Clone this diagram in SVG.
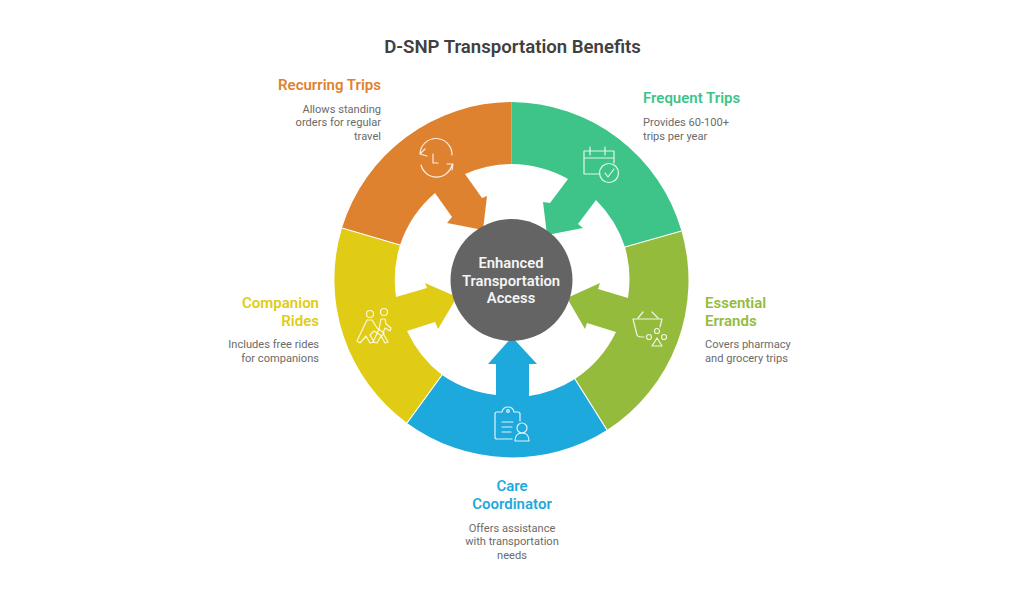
<svg xmlns="http://www.w3.org/2000/svg" width="1024" height="597" viewBox="0 0 1024 597">
<style>
text{font-family:Roboto,"Liberation Sans",sans-serif}
.t{font-size:15px;font-weight:600}
.d{font-size:11.100px;fill:#6b6b6b}
.c{font-size:14.800px;font-weight:600;fill:#f4f4f4;text-anchor:middle}
.seg{stroke:none}
.sep{stroke:#fff;stroke-width:1.200;fill:none}
.ic{fill:none;stroke:#fff;stroke-width:1.200;stroke-linecap:round;stroke-linejoin:round;opacity:.85}
.e{text-anchor:end}.m{text-anchor:middle}
</style>
<rect width="1024" height="597" fill="#fff"/>
<text x="512.500" y="53" class="m" font-size="18.600" font-weight="600" fill="#404040">D-SNP Transportation Benefits</text>
<g id="recurring-trips">
<path class="seg" fill="#df8230" d="M511.500 102V164A118 118 0 0 0 465 174L482 198L487 196L483 230L447 223L452 217L435 193A118 118 0 0 0 400 245L342 228A178 178 0 0 1 511.500 102Z"/>
<path class="ic" d="M420 154A16 16 0 0 1 452 155M420 154L425 149M420 154L427 156M421 165A16 16 0 0 0 452 165M453 164L447 164M453 164L452 170M433 154V163H438"/>
<text x="381" y="90" class="t e" fill="#df8230">Recurring Trips</text>
<text x="381" y="113" class="d e">Allows standing</text><text x="381" y="126" class="d e">orders for regular</text><text x="381" y="140" class="d e">travel</text>
</g>
<g id="frequent-trips">
<path class="seg" fill="#3ec488" d="M511.500 102A178 178 0 0 1 681.500 231L625 247A118 118 0 0 0 596 200L578 224L583 228L547 235L543 202L550 203L568 179A118 118 0 0 0 511.500 164Z"/>
<path class="ic" d="M600 174H584V151H614V163M584 158H614M590 147V155M605 147V155"/><circle class="ic" cx="609" cy="173" r="9.500"/><path class="ic" d="M605 173L608 177L614 169"/>
<text x="643" y="103" class="t" fill="#3ec488">Frequent Trips</text>
<text x="643" y="126" class="d">Provides 60-100+</text><text x="643" y="140" class="d">trips per year</text>
</g>
<g id="essential-errands">
<path class="seg" fill="#94bb3c" d="M681.500 231A178 178 0 0 1 607 430L575 379A118 118 0 0 0 616 332L587 323L585 329L567 298L600 283L598 289L628 298A118 118 0 0 0 625 247Z"/>
<path class="ic" d="M660 327L662 319H633L637 335Q638 337 641 337H644M638 318L643 312M658 318L652 312"/><circle class="ic" cx="649" cy="337" r="2.500"/><circle class="ic" cx="657" cy="331" r="2.500"/><circle class="ic" cx="664" cy="337" r="2.500"/><path class="ic" d="M657 338L662 346H652Z"/>
<text x="705" y="308" class="t" fill="#94bb3c">Essential</text><text x="705" y="326" class="t" fill="#94bb3c">Errands</text>
<text x="705" y="348" class="d">Covers pharmacy</text><text x="705" y="362" class="d">and grocery trips</text>
</g>
<g id="care-coordinator">
<path class="seg" fill="#1ea9dc" d="M607 430A178 178 0 0 1 407 423L442 375A118 118 0 0 0 496 395V364H488L512 337L537 364H529V396A118 118 0 0 0 575 379Z"/>
<path class="ic" d="M502 412H497Q495 412 495 414V437Q495 439 497 439H512M514 412H518Q520 412 520 414V421M502 412Q503 407 508 407Q513 407 514 412M502 422H513M502 427H512M502 432H511"/><circle class="ic" cx="508" cy="411" r="1.300"/><circle class="ic" cx="522" cy="428" r="5"/><path class="ic" d="M515 441Q515 433 522 433Q529 433 529 441Z"/>
<text x="512" y="491" class="t m" fill="#1ea9dc">Care</text><text x="512" y="509" class="t m" fill="#1ea9dc">Coordinator</text>
<text x="512" y="532" class="d m">Offers assistance</text><text x="512" y="545" class="d m">with transportation</text><text x="512" y="559" class="d m">needs</text>
</g>
<g id="companion-rides">
<path class="seg" fill="#e0cc14" d="M407 423A178 178 0 0 1 342 228L400 245A118 118 0 0 0 396 297L427 288L425 283L457 297L438 329L435 322L407 331A118 118 0 0 0 442 375Z"/>
<circle class="ic" cx="370" cy="314" r="3.500"/><circle class="ic" cx="384" cy="312" r="3.500"/>
<path class="ic" d="M367 320L372 320L377 328L384 333L382 336L374 331L370 335L374 342L370 343L366 336L360 343L357 341Z"/>
<path class="ic" d="M381 319L385 319L386 324L391 328L390 331L385 328L383 333L388 342L385 343L381 336L377 343L373 342L379 329Z"/>
<text x="319" y="308" class="t e" fill="#e0cc14">Companion</text><text x="319" y="326" class="t e" fill="#e0cc14">Rides</text>
<text x="319" y="348" class="d e">Includes free rides</text><text x="319" y="362" class="d e">for companions</text>
</g>
<g id="center">
<circle cx="511.500" cy="280" r="61" fill="#646464"/>
<text x="511" y="268" class="c">Enhanced</text>
<text x="511" y="286" class="c">Transportation</text>
<text x="511" y="303" class="c">Access</text>
</g>
<g id="connectors">
<path class="sep" d="M681.500 231L625 247M607 430L575 379M407 423L442 375M342 228L400 245"/>
</g>
</svg>
